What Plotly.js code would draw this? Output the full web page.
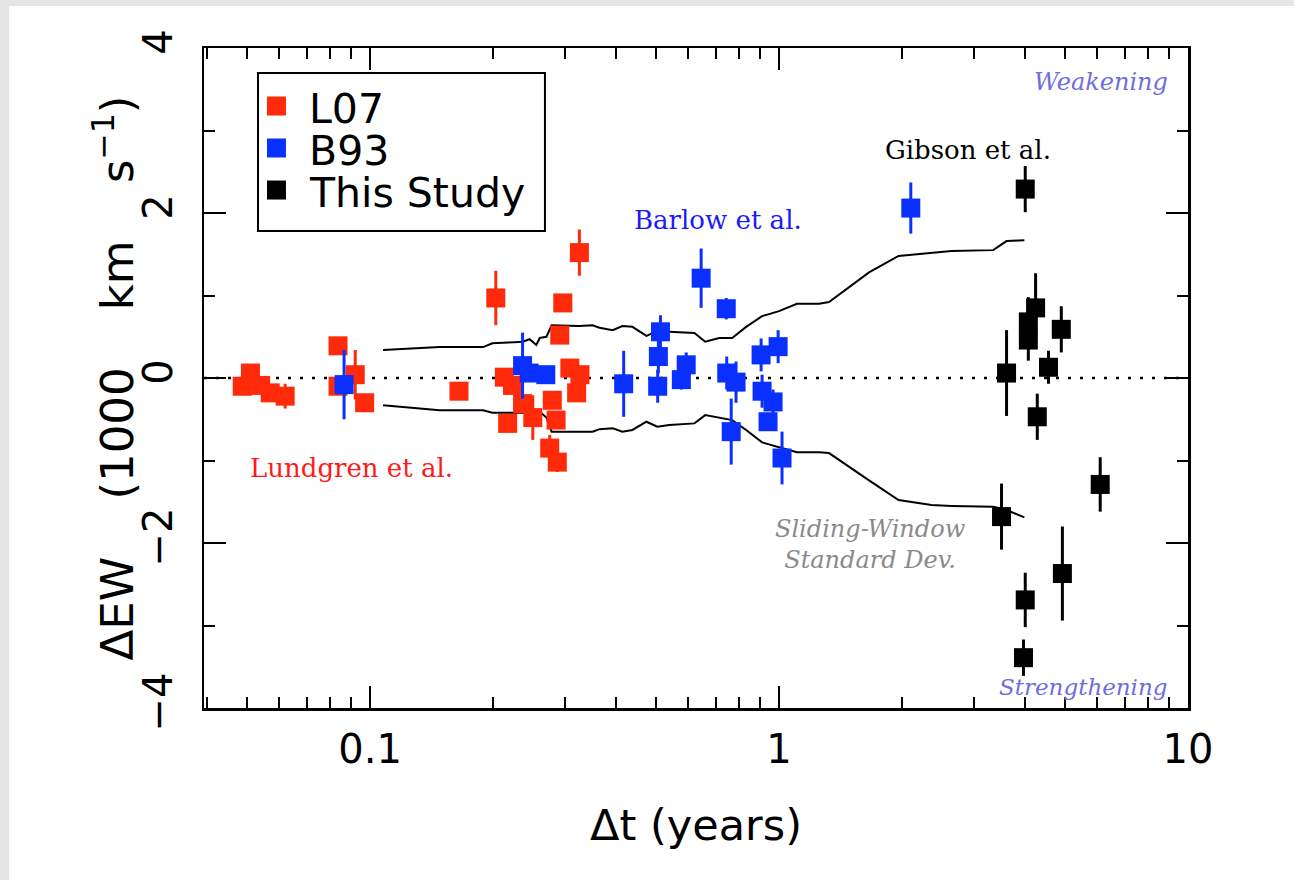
<!DOCTYPE html>
<html>
<head>
<meta charset="utf-8">
<script src="https://cdn.plot.ly/plotly-3.0.1.min.js"></script>
<style>
  html, body { margin: 0; padding: 0; background: #e5e5e5; width: 100%; height: 100%; overflow: hidden; }
  #panel { position: fixed; left: 9px; top: 6px; right: 0; bottom: 0; background: #fff; }
  #chart { position: absolute; left: 9px; top: 6px; width: 1300px; height: 874px; background: #fff; }
</style>
</head>
<body>
<div id="panel"></div>
<div id="chart"></div>
<script>
// ---- Data ----
const series_names = ['L07', 'B93', 'This Study'];

const l07_x   = [0.0487, 0.051, 0.054, 0.057, 0.062, 0.0835, 0.0835, 0.092, 0.097, 0.165, 0.203, 0.213, 0.223, 0.217, 0.236, 0.250, 0.279, 0.285, 0.275, 0.287, 0.291, 0.296, 0.308, 0.326, 0.320, 0.325];
const l07_y   = [-0.10, 0.06, -0.09, -0.18, -0.22, 0.39, -0.10, 0.04, -0.30, -0.16, 0.97, 0.01, -0.09, -0.55, -0.31, -0.48, -0.27, -0.51, -0.85, -1.02, 0.52, 0.91, 0.12, 0.04, -0.18, 1.52];
const l07_err = [0.08, 0.08, 0.08, 0.08, 0.15, 0.10, 0.08, 0.30, 0.08, 0.08, 0.33, 0.10, 0.10, 0.10, 0.10, 0.27, 0.10, 0.10, 0.16, 0.12, 0.10, 0.08, 0.10, 0.10, 0.10, 0.28];

const b93_x   = [0.0864, 0.236, 0.245, 0.269, 0.417, 0.513, 0.507, 0.505, 0.593, 0.577, 0.645, 0.743, 0.745, 0.785, 0.764, 0.904, 0.995, 0.909, 0.967, 0.940, 1.017, 2.10];
const b93_y   = [-0.08, 0.15, 0.06, 0.04, -0.07, 0.56, 0.26, -0.10, 0.16, -0.02, 1.21, 0.84, 0.06, -0.05, -0.65, 0.28, 0.38, -0.16, -0.29, -0.53, -0.97, 2.06];
const b93_err = [0.42, 0.40, 0.10, 0.10, 0.40, 0.20, 0.20, 0.20, 0.15, 0.12, 0.36, 0.13, 0.20, 0.25, 0.40, 0.20, 0.20, 0.20, 0.15, 0.10, 0.32, 0.31];

const study_x   = [4.0, 4.24, 4.07, 4.07, 4.9, 4.56, 3.6, 4.28, 6.1, 3.5, 4.93, 4.0, 3.96];
const study_y   = [2.29, 0.85, 0.68, 0.46, 0.59, 0.13, 0.06, -0.47, -1.29, -1.68, -2.37, -2.69, -3.39];
const study_err = [0.28, 0.42, 0.30, 0.25, 0.28, 0.20, 0.52, 0.28, 0.33, 0.40, 0.57, 0.33, 0.22];

// Sliding-window standard deviation envelope
const sw_x     = [0.1076, 0.148, 0.189, 0.199, 0.236, 0.2455, 0.255, 0.260, 0.270, 0.278, 0.325, 0.350, 0.364, 0.392, 0.414, 0.438, 0.474, 0.504, 0.539, 0.621, 0.660, 0.714, 0.768, 0.831, 0.909, 1.0, 1.106, 1.253, 1.325, 1.66, 1.96, 2.36, 2.64, 3.34, 3.60, 3.98];
const sw_upper = [0.34, 0.375, 0.375, 0.42, 0.44, 0.47, 0.40, 0.485, 0.50, 0.64, 0.63, 0.64, 0.61, 0.58, 0.63, 0.62, 0.51, 0.57, 0.56, 0.545, 0.44, 0.485, 0.485, 0.62, 0.75, 0.81, 0.90, 0.90, 0.92, 1.28, 1.48, 1.52, 1.54, 1.55, 1.66, 1.67];
const sw_lower = [-0.33, -0.39, -0.39, -0.42, -0.42, -0.41, -0.45, -0.41, -0.48, -0.65, -0.65, -0.65, -0.62, -0.61, -0.65, -0.63, -0.53, -0.59, -0.57, -0.55, -0.45, -0.48, -0.51, -0.63, -0.78, -0.84, -0.90, -0.90, -0.91, -1.24, -1.48, -1.54, -1.55, -1.56, -1.60, -1.69];

const x_tickvals = [0.1, 1, 10];
const x_ticktext = ['0.1', '1', '10'];
const x_minor = [0.04, 0.05, 0.06, 0.07, 0.08, 0.09, 0.2, 0.3, 0.4, 0.5, 0.6, 0.7, 0.8, 0.9, 2, 3, 4, 5, 6, 7, 8, 9];
const y_tickvals = [-4, -2, 0, 2, 4];
const y_ticktext = ['\u22124', '\u22122', '0', '2', '4'];
const x_title = '\u0394t (years)';
const y_title = '\u0394EW\u00a0\u00a0\u00a0\u00a0(1000\u00a0\u00a0\u00a0\u00a0km\u00a0\u00a0\u00a0\u00a0s<sup>\u22121</sup>)';

// ---- Styles ----
const RED = '#ff2a0a', BLUE = '#0a30ff', BLACK = '#000000';
const COLORS = [RED, BLUE, BLACK];
const MS = 19;
const sans = 'DejaVu Sans, Liberation Sans, sans-serif';
const serif = 'DejaVu Serif, serif';

function pts(name, x, y, e, color) {
  return {
    type: 'scatter', mode: 'markers', name: name, x: x, y: y,
    marker: { symbol: 'square', size: MS, color: color, line: { width: 0 } },
    error_y: { type: 'data', array: e, visible: true, color: color, thickness: 3, width: 0 },
    showlegend: false
  };
}

const traces = [
  { type: 'scatter', mode: 'lines', x: sw_x, y: sw_upper, line: { color: 'black', width: 2 }, showlegend: false, hoverinfo: 'skip' },
  { type: 'scatter', mode: 'lines', x: sw_x, y: sw_lower, line: { color: 'black', width: 2 }, showlegend: false, hoverinfo: 'skip' },
  pts(series_names[0], l07_x, l07_y, l07_err, RED),
  pts(series_names[1], b93_x, b93_y, b93_err, BLUE),
  pts(series_names[2], study_x, study_y, study_err, BLACK)
];

const axisCommon = {
  showline: true, linecolor: 'black', linewidth: 2.5, mirror: 'ticks',
  ticks: 'inside', ticklen: 22, tickwidth: 2, tickcolor: 'black',
  showgrid: false, zeroline: false,
  tickfont: { family: sans, size: 40, color: 'black' }
};

// Manual legend box (paper coordinates of the plot area)
const legBox = { x0: 0.0549, x1: 0.3465, y0: 0.7227, y1: 0.9621 };
const legRowY = [0.9121, 0.8485, 0.7848];
const legSqHalf = 0.0144;
const shapes = [
  { type: 'line', xref: 'paper', yref: 'y', x0: 0, x1: 1, y0: 0, y1: 0,
    line: { color: 'black', width: 2.5, dash: '3px,9px' }, layer: 'below' },
  { type: 'rect', xref: 'paper', yref: 'paper', x0: legBox.x0, x1: legBox.x1, y0: legBox.y0, y1: legBox.y1,
    line: { color: 'black', width: 2 }, fillcolor: 'white', layer: 'above' }
];
const annotations = [];
series_names.forEach((nm, i) => {
  shapes.push({ type: 'rect', xref: 'paper', yref: 'paper', x0: 0.0640, x1: 0.0833,
    y0: legRowY[i] - legSqHalf, y1: legRowY[i] + legSqHalf,
    line: { width: 0 }, fillcolor: COLORS[i], layer: 'above' });
  annotations.push({ xref: 'paper', yref: 'paper', x: 0.1047, y: legRowY[i] - 0.004, xanchor: 'left', yanchor: 'middle',
    showarrow: false, text: nm, font: { family: sans, size: 41, color: 'black' } });
});

annotations.push(
  { xref: 'paper', yref: 'paper', x: -0.091, y: 0.5, xanchor: 'center', yanchor: 'middle', textangle: -90, showarrow: false,
    text: y_title, font: { family: sans, size: 45, color: 'black' } },
  { xref: 'paper', yref: 'paper', x: 0.982, y: 0.948, xanchor: 'right', yanchor: 'middle', showarrow: false,
    text: '<i>Weakening</i>', font: { family: serif, size: 24, color: '#6e6edc' } },
  { xref: 'paper', yref: 'paper', x: 0.982, y: 0.032, xanchor: 'right', yanchor: 'middle', showarrow: false,
    text: '<i>Strengthening</i>', font: { family: serif, size: 23, color: '#6e6edc' } },
  { xref: 'paper', yref: 'paper', x: 0.776, y: 0.845, xanchor: 'center', yanchor: 'middle', showarrow: false,
    text: 'Gibson et al.', font: { family: serif, size: 26, color: 'black' } },
  { xref: 'paper', yref: 'paper', x: 0.522, y: 0.739, xanchor: 'center', yanchor: 'middle', showarrow: false,
    text: 'Barlow et al.', font: { family: serif, size: 26, color: '#1a1aff' } },
  { xref: 'paper', yref: 'paper', x: 0.150, y: 0.364, xanchor: 'center', yanchor: 'middle', showarrow: false,
    text: 'Lundgren et al.', font: { family: serif, size: 26, color: '#ff1a1a' } },
  { xref: 'paper', yref: 'paper', x: 0.677, y: 0.247, xanchor: 'center', yanchor: 'middle', showarrow: false, align: 'center',
    text: '<i>Sliding-Window<br>Standard Dev.</i>', font: { family: serif, size: 24, color: '#8a8a8a' } }
);

const layout = {
  width: 1300, height: 874,
  paper_bgcolor: '#ffffff', plot_bgcolor: '#ffffff',
  margin: { l: 195, r: 121, t: 42, b: 172 },
  showlegend: false,
  xaxis: Object.assign({}, axisCommon, {
    type: 'log', range: [-1.406, 1],
    tickmode: 'array', tickvals: x_tickvals, ticktext: x_ticktext,
    ticklabelstandoff: 4,
    minor: { tickmode: 'array', tickvals: x_minor, ticks: 'inside', ticklen: 11, tickwidth: 2, tickcolor: 'black', showgrid: false },
    title: { text: x_title, font: { family: sans, size: 43, color: 'black' }, standoff: 40 }
  }),
  yaxis: Object.assign({}, axisCommon, {
    range: [-4, 4],
    tickmode: 'array', tickvals: y_tickvals, ticktext: y_ticktext, tickangle: -90,
    ticklabelstandoff: 14,
    minor: { dtick: 1, ticks: 'inside', ticklen: 11, tickwidth: 2, tickcolor: 'black', showgrid: false }
  }),
  shapes: shapes,
  annotations: annotations
};

Plotly.newPlot('chart', traces, layout, { staticPlot: true, displayModeBar: false });
</script>
</body>
</html>
